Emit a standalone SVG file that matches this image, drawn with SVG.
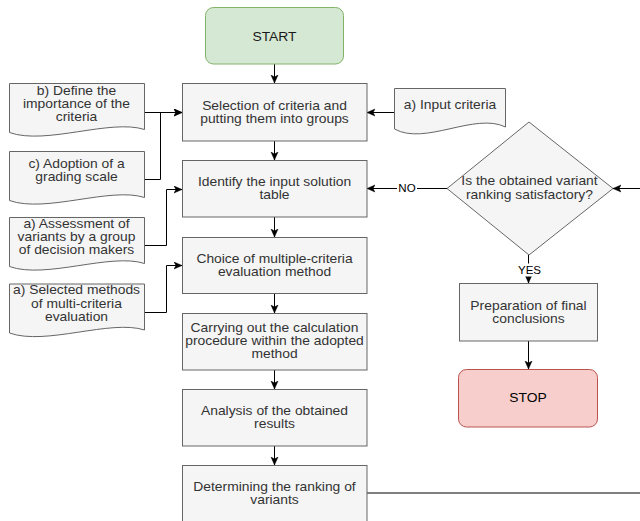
<svg xmlns="http://www.w3.org/2000/svg" width="640" height="521" viewBox="0 0 640 521">
<defs>
<style>
.box{fill:#f5f5f5;stroke:#666666;stroke-width:1}
.start{fill:#d5e8d4;stroke:#82b366;stroke-width:1}
.stop{fill:#f8cecc;stroke:#b85450;stroke-width:1}
.t{font-family:"Liberation Sans",Arial,Helvetica,sans-serif;font-size:12.6px;fill:#333333;text-anchor:middle}
.lbl{font-family:"Liberation Sans",Arial,Helvetica,sans-serif;font-size:10.5px;fill:#000000;text-anchor:middle}
.edge{fill:none;stroke:#000000;stroke-width:1}
</style>
<marker id="arr" markerUnits="userSpaceOnUse" markerWidth="10" markerHeight="10" refX="8" refY="4" orient="auto" viewBox="0 0 10 10">
<path d="M0,0.5 L8,4 L0,7.5 L2,4 Z" fill="#000000" stroke="#000000" stroke-width="0.5"/>
</marker>
<path id="doc" d="M0,0 H135 V46 C101,35 36,62 0,49 Z"/>
</defs>
<rect width="640" height="521" fill="#ffffff"/>

<g id="connectors">
<path class="edge" d="M274.5,64 V83" marker-end="url(#arr)"/>
<path class="edge" d="M274.5,141 V160" marker-end="url(#arr)"/>
<path class="edge" d="M274.5,217 V237" marker-end="url(#arr)"/>
<path class="edge" d="M274.5,293 V313" marker-end="url(#arr)"/>
<path class="edge" d="M274.5,370 V389" marker-end="url(#arr)"/>
<path class="edge" d="M274.5,446 V465" marker-end="url(#arr)"/>
<path class="edge" d="M144,112.5 H182" marker-end="url(#arr)"/>
<path class="edge" d="M144,179.5 H160.5 V112.5 H182" marker-end="url(#arr)"/>
<path class="edge" d="M144,245.5 H166.5 V189.5 H182" marker-end="url(#arr)"/>
<path class="edge" d="M144,312.5 H166.5 V265.5 H182" marker-end="url(#arr)"/>
<path class="edge" d="M394,112.5 H367" marker-end="url(#arr)"/>
<path class="edge" d="M447,188.5 H367" marker-end="url(#arr)"/>
<path class="edge" d="M528.5,255 V283" marker-end="url(#arr)"/>
<path class="edge" d="M528.5,341 V369" marker-end="url(#arr)"/>
<path class="edge" d="M367,493 H640" stroke="#333333"/>
<path class="edge" d="M640,188.5 H613" marker-end="url(#arr)"/>
<g id="label-no">
<rect x="397" y="182" width="20" height="13" fill="#ffffff"/>
<text class="lbl" transform="translate(407,0) scale(1.1,1)" y="192.3">NO</text>
</g>
<g id="label-yes">
<rect x="516" y="263.5" width="26" height="13" fill="#ffffff"/>
<text class="lbl" transform="translate(529.5,0) scale(1.1,1)" y="274">YES</text>
</g>
</g>

<g id="start">
<rect class="start" x="205.5" y="7.5" width="138" height="56.5" rx="8" ry="8"/>
<text class="t" transform="translate(274.5,0) scale(1.1,1)" y="40.8" style="fill:#1a1a1a">START</text>
</g>

<g id="selection">
<rect class="box" x="182.5" y="83.5" width="184.5" height="57.5"/>
<text class="t" transform="translate(274.5,0) scale(1.1,1)"><tspan x="0" y="110.3">Selection of criteria and</tspan><tspan x="0" y="123.3">putting them into groups</tspan></text>
</g>

<g id="identify">
<rect class="box" x="182.5" y="160.5" width="184.5" height="56.5"/>
<text class="t" transform="translate(274.5,0) scale(1.1,1)"><tspan x="0" y="186.5">Identify the input solution</tspan><tspan x="0" y="199.5">table</tspan></text>
</g>

<g id="choice">
<rect class="box" x="182.5" y="237.5" width="184.5" height="56"/>
<text class="t" transform="translate(274.5,0) scale(1.1,1)"><tspan x="0" y="263">Choice of multiple-criteria</tspan><tspan x="0" y="276">evaluation method</tspan></text>
</g>

<g id="carrying">
<rect class="box" x="182.5" y="313.5" width="184.5" height="56.5"/>
<text class="t" transform="translate(274.5,0) scale(1.1,1)"><tspan x="0" y="332.5">Carrying out the calculation</tspan><tspan x="0" y="345.5">procedure within the adopted</tspan><tspan x="0" y="358.5">method</tspan></text>
</g>

<g id="analysis">
<rect class="box" x="182.5" y="389.5" width="184.5" height="56.5"/>
<text class="t" transform="translate(274.5,0) scale(1.1,1)"><tspan x="0" y="415">Analysis of the obtained</tspan><tspan x="0" y="428">results</tspan></text>
</g>

<g id="determining">
<rect class="box" x="182.5" y="465.5" width="184.5" height="57"/>
<text class="t" transform="translate(274.5,0) scale(1.1,1)"><tspan x="0" y="491.5">Determining the ranking of</tspan><tspan x="0" y="504.5">variants</tspan></text>
</g>

<g id="doc-importance">
<use href="#doc" class="box" transform="translate(9.5,83.5)"/>
<text class="t" transform="translate(76.5,0) scale(1.1,1)"><tspan x="0" y="95">b) Define the</tspan><tspan x="0" y="108">importance of the</tspan><tspan x="0" y="121">criteria</tspan></text>
</g>

<g id="doc-grading">
<use href="#doc" class="box" transform="translate(9.5,151.5)"/>
<text class="t" transform="translate(76.5,0) scale(1.1,1)"><tspan x="0" y="168">c) Adoption of a</tspan><tspan x="0" y="181">grading scale</tspan></text>
</g>

<g id="doc-assessment">
<use href="#doc" class="box" transform="translate(9.5,217.5)"/>
<text class="t" transform="translate(76.5,0) scale(1.1,1)"><tspan x="0" y="228.5">a) Assessment of</tspan><tspan x="0" y="241.5">variants by a group</tspan><tspan x="0" y="254.5">of decision makers</tspan></text>
</g>

<g id="doc-methods">
<use href="#doc" class="box" transform="translate(9.5,284)"/>
<text class="t" transform="translate(76.5,0) scale(1.1,1)"><tspan x="0" y="294.5">a) Selected methods</tspan><tspan x="0" y="308">of multi-criteria</tspan><tspan x="0" y="321.5">evaluation</tspan></text>
</g>

<g id="doc-input">
<path class="box" d="M394.5,88.5 H505.5 V127 C475,112 425,146 394.5,129 Z"/>
<text class="t" transform="translate(450,0) scale(1.1,1)" y="109">a) Input criteria</text>
</g>

<g id="decision">
<polygon class="box" points="447,188.5 529,122 613,188.5 529,255"/>
<text class="t" transform="translate(529.5,0) scale(1.1,1)"><tspan x="0" y="185.3">Is the obtained variant</tspan><tspan x="0" y="199.3">ranking satisfactory?</tspan></text>
</g>

<g id="preparation">
<rect class="box" x="459.5" y="283.5" width="138" height="57.5"/>
<text class="t" transform="translate(528.5,0) scale(1.1,1)"><tspan x="0" y="310">Preparation of final</tspan><tspan x="0" y="323">conclusions</tspan></text>
</g>

<g id="stop">
<rect class="stop" x="458.5" y="369.5" width="139" height="57.5" rx="8" ry="8"/>
<text class="t" transform="translate(528,0) scale(1.1,1)" y="402.5" style="fill:#000000">STOP</text>
</g>
</svg>
